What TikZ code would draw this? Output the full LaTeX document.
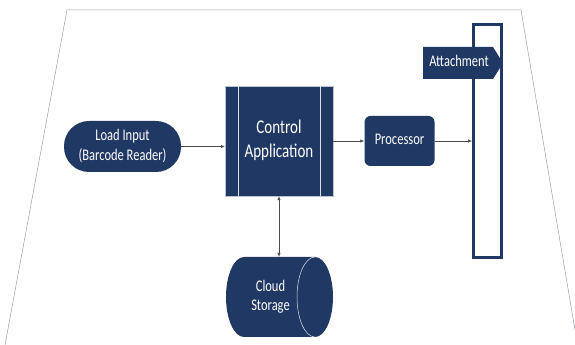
\documentclass[tikz,border=0pt]{standalone}
\usepackage{fontspec}
\setmainfont{Carlito}
\usepackage{graphicx}
\usetikzlibrary{arrows.meta}
\definecolor{navy}{RGB}{32,56,100}
\definecolor{framegray}{RGB}{150,158,172}
\newcommand\vtext[1]{\scalebox{1}[1.3]{\begin{tabular}{@{}c@{}}#1\end{tabular}}}
\begin{document}
\begin{tikzpicture}[
  box/.style={fill=navy, text=white, inner sep=0pt, font=\fontsize{12.5}{15}\selectfont, align=center},
  conn/.style={draw=black!70, line width=0.6pt, -{Latex[length=4pt,width=3.5pt]}},
  dconn/.style={draw=black!70, line width=0.6pt, {Latex[length=4pt,width=3.5pt]}-{Latex[length=4pt,width=3.5pt]}},
  frameline/.style={draw=framegray, line width=0.5pt},
  sep/.style={draw=white!85!navy, line width=0.5pt}]
\useasboundingbox (0,0) rectangle (575pt,345pt);
\begin{scope}[x=1pt,y=1pt]
\draw[frameline] (5,0) -- (67,335) -- (521,335) -- (575,15);

\node[box, rounded corners=25pt, minimum width=117pt, minimum height=51pt] (load) at (122.5,198.5) {\vtext{Load Input\\(Barcode Reader)}};

\node[box, draw=white!70!navy, line width=0.4pt, minimum width=108pt, minimum height=110pt, font=\fontsize{15}{18}\selectfont] (ctrl) at (279,204) {\vtext{Control\\Application}};
\draw[sep] ([xshift=13pt]ctrl.north west) -- ([xshift=13pt]ctrl.south west);
\draw[sep] ([xshift=-13pt]ctrl.north east) -- ([xshift=-13pt]ctrl.south east);

\node[box, rounded corners=6pt, minimum width=70pt, minimum height=50pt] (proc) at (399.5,204) {\vtext{Processor}};

\node[draw=navy, line width=3pt, fill=white, minimum width=28pt, minimum height=233pt, inner sep=0pt] (bar) at (487.5,204) {};

\fill[navy] (423,298) -- (493,298) -- (503,282) -- (493,266) -- (423,266) -- cycle;
\node[text=white, inner sep=0pt, font=\fontsize{12.5}{15}\selectfont] (tag) at (459,282) {\vtext{Attachment}};

\fill[navy] (244,88) -- (315,88) arc[start angle=90, end angle=-90, x radius=18pt, y radius=40pt]
  -- (244,8) arc[start angle=270, end angle=90, x radius=18pt, y radius=40pt] -- cycle;
\draw[sep] (315,88) arc[start angle=90, end angle=270, x radius=18pt, y radius=40pt];
\node[inner sep=0pt, minimum width=89pt, minimum height=80pt, text=white, font=\fontsize{12.5}{15}\selectfont] (cyl) at (270.5,48) {\vtext{Cloud\\Storage}};

\draw[conn] (load.east) -- (load.east -| ctrl.west);
\draw[conn] (ctrl.east) -- (proc.west);
\draw[conn] (proc.east) -- (bar.west);
\draw[dconn] (ctrl.south) -- (ctrl.south |- cyl.north);
\end{scope}
\end{tikzpicture}
\end{document}
